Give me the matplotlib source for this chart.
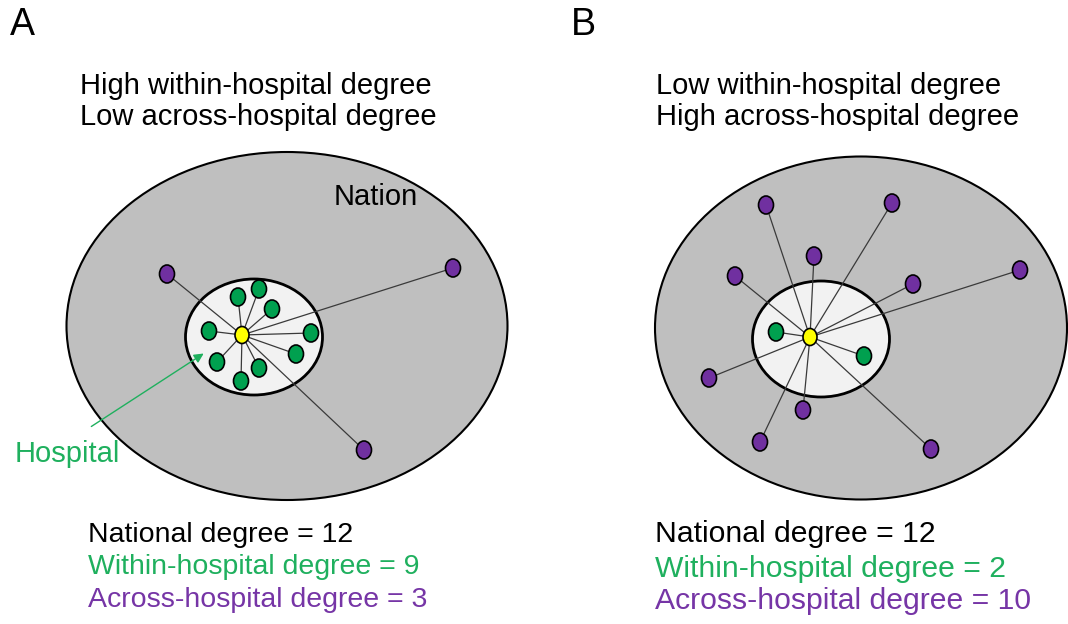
import matplotlib
matplotlib.use("Agg")
import matplotlib.pyplot as plt
from matplotlib.patches import Ellipse, FancyArrowPatch

plt.rcParams['font.family'] = ['Liberation Sans', 'DejaVu Sans']

# ---- data (pixel-space layout of the diagram) ----
# Panel A
a_nation = (287, 326, 441, 348)
a_hospital = (254, 337, 137, 116)
a_center = (242, 335)
a_green_x = [238, 259, 272, 209, 311, 296, 217, 259, 241]
a_green_y = [297, 289, 309, 331, 333, 354, 362, 368, 381]
a_purple_x = [167, 453, 364]
a_purple_y = [274, 268, 450]
# Panel B
b_nation = (861, 328, 412, 343)
b_hospital = (821, 339, 137, 116)
b_center = (810, 337)
b_green_x = [776, 864]
b_green_y = [332, 356]
b_purple_x = [766, 892, 814, 735, 913, 1020, 709, 803, 760, 931]
b_purple_y = [205, 203, 256, 276, 284, 270, 378, 410, 442, 449]

GRAY = '#bfbfbf'
LIGHT = '#f2f2f2'
GREEN = '#00a04f'
PURPLE = '#7030a0'
YELLOW = '#ffff00'
TGREEN = '#1fb05e'
TPURPLE = '#7635a6'

fig = plt.figure(figsize=(10.68, 6.24), dpi=100)
ax = fig.add_axes([0, 0, 1, 1])
ax.set_xlim(0, 1068)
ax.set_ylim(624, 0)
ax.axis('off')


def node(x, y, color, w=15, h=18, z=5):
    ax.add_patch(Ellipse((x, y), w, h, facecolor=color, edgecolor='black', lw=1.2, zorder=z))


def panel(nation, hospital, center, gx, gy, px, py):
    cx, cy, w, h = nation
    ax.add_patch(Ellipse((cx, cy), w, h, facecolor=GRAY, edgecolor='black', lw=1.5, zorder=1))
    hx, hy, hw, hh = hospital
    ax.add_patch(Ellipse((hx, hy), hw, hh, facecolor=LIGHT, edgecolor='black', lw=2.0, zorder=2))
    for x, y in zip(list(gx) + list(px), list(gy) + list(py)):
        ax.plot([center[0], x], [center[1], y], color='#3a3a3a', lw=0.9, zorder=3)
    for x, y in zip(gx, gy):
        node(x, y, GREEN)
    for x, y in zip(px, py):
        node(x, y, PURPLE)
    node(center[0], center[1], YELLOW, w=14, h=17, z=6)


panel(a_nation, a_hospital, a_center, a_green_x, a_green_y, a_purple_x, a_purple_y)
panel(b_nation, b_hospital, b_center, b_green_x, b_green_y, b_purple_x, b_purple_y)

# arrow to hospital
ax.add_patch(FancyArrowPatch((89, 428), (206, 352), arrowstyle='-|>', mutation_scale=14,
                             color=TGREEN, lw=1.0, zorder=4))

kw = dict(fontsize=21, va='baseline', ha='left')
kwa = dict(fontsize=20.5, va='baseline', ha='left')
kwb = dict(fontsize=21.7, va='baseline', ha='left')
ax.text(10, 35, 'A', fontsize=27, va='baseline', ha='left')
ax.text(571, 35, 'B', fontsize=27, va='baseline', ha='left')

ax.text(80, 94, 'High within-hospital degree', **kw)
ax.text(80, 125, 'Low across-hospital degree', **kw)
ax.text(656, 94, 'Low within-hospital degree', **kw)
ax.text(656, 125, 'High across-hospital degree', **kw)

ax.text(334, 205, 'Nation', zorder=7, **kw)
ax.text(15, 462, 'Hospital', color=TGREEN, **kw)

ax.text(88, 542, 'National degree = 12', **kwa)
ax.text(88, 574, 'Within-hospital degree = 9', color=TGREEN, **kwa)
ax.text(88, 607, 'Across-hospital degree = 3', color=TPURPLE, **kwa)

ax.text(655, 542, 'National degree = 12', **kwb)
ax.text(655, 577, 'Within-hospital degree = 2', color=TGREEN, **kwb)
ax.text(655, 609, 'Across-hospital degree = 10', color=TPURPLE, **kwb)

fig.savefig('out.png', dpi=100)
